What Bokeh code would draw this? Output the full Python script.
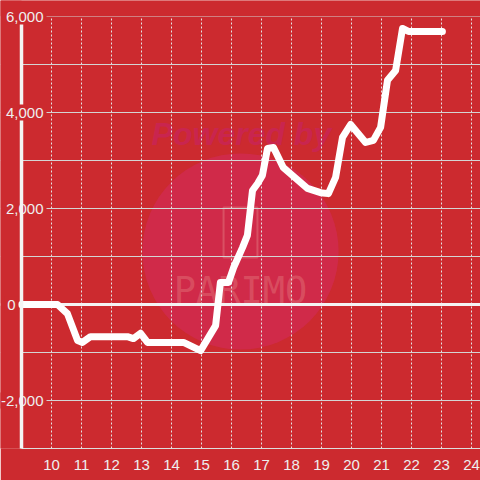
from bokeh.plotting import figure
from bokeh.models import Span, Label, FixedTicker, Range1d, BoxAnnotation
from bokeh.core.properties import value
from bokeh.embed import file_html
from bokeh.resources import INLINE

# data
hours = [9, 10.2, 10.53, 10.87, 11.03, 11.3, 12.53, 12.73, 12.97, 13.2, 14.4, 14.97,
         15.47, 15.63, 15.9, 16.07, 16.37, 16.53, 16.7, 16.87, 17.03, 17.2, 17.4, 17.73,
         18.53, 18.97, 19.23, 19.47, 19.7, 19.97, 20.47, 20.73, 20.97, 21.2, 21.47, 21.7,
         21.9, 23.03]
balance = [0, 0, -190, -750, -790, -670, -670, -710, -600, -790, -790, -960,
           -440, 460, 460, 770, 1190, 1440, 2375, 2520, 2690, 3250, 3270, 2850,
           2420, 2330, 2310, 2650, 3480, 3750, 3375, 3420, 3690, 4670, 4875, 5750,
           5690, 5690]
x_ticks = list(range(10, 25))
y_grid = list(range(-3000, 7000, 1000))
y_ticks = [-2000, 0, 2000, 4000, 6000]
y_tick_labels = ["-2,000", "0", "2,000", "4,000", "6,000"]

BG = "#cc2a2f"
FONT = "Liberation Sans"
AX_X = 9              # where the y axis sits
Y_MIN, Y_MAX = -3000, 6000
PX_PER_X = 30.0
PX_PER_Y = 0.048
LEFT_PAD, TOP_PAD = 21, 16
x_start = AX_X - LEFT_PAD / PX_PER_X
x_end = x_start + 480 / PX_PER_X
y_end = Y_MAX + TOP_PAD / PX_PER_Y

p = figure(width=480, height=480, output_backend="svg", toolbar_location=None,
           x_range=Range1d(x_start, x_end), y_range=Range1d(Y_MIN, y_end),
           y_axis_location=None, min_border_left=0, min_border_right=0,
           min_border_top=0, min_border_bottom=32,
           background_fill_color=BG, border_fill_color=BG, outline_line_color=None)

# watermark
wm = p.circle(x=[16.3], y=[1104], radius=3.27, radius_dimension="x",
              fill_color="#d02a4e", fill_alpha=0.85, line_color=None)
wm.level = "image"
t1 = p.text(x=[16.33], y=[3562], text=["Powered by"], text_align="center",
            text_baseline="middle", text_font=value(FONT), text_font_style="bold italic",
            text_font_size="32px", text_color="#c8245a", text_alpha=0.75)
t1.level = "image"
r1 = p.rect(x=[16.3], y=[1500], width=1.13, height=1040, fill_color=None,
            line_color="#e06a74", line_alpha=0.6, line_width=2)
r1.level = "image"
t2 = p.text(x=[16.3], y=[292], text=["PARIMO"], text_align="center",
            text_baseline="middle", text_font=value("DejaVu Sans Mono"),
            text_font_size="37px", text_color="#e06a74", text_alpha=0.55)
t2.level = "image"

# grids
p.xgrid.ticker = FixedTicker(ticks=x_ticks)
p.xgrid.grid_line_color = "#e4e4e4"
p.xgrid.grid_line_dash = "2 2"
p.xgrid.grid_line_width = 1
p.ygrid.ticker = FixedTicker(ticks=y_grid)
p.ygrid.grid_line_color = "#d4d4d4"
p.ygrid.grid_line_width = 1

# x axis
p.xaxis.ticker = FixedTicker(ticks=x_ticks)
p.xaxis.bounds = (AX_X, x_end)
p.xaxis.axis_line_color = "#dddddd"
p.xaxis.axis_line_width = 1
p.xaxis.major_tick_line_color = None
p.xaxis.minor_tick_line_color = None
p.xaxis.major_label_text_color = "#eeeeee"
p.xaxis.major_label_text_font = FONT
p.xaxis.major_label_text_font_size = "15px"
p.xaxis.major_label_standoff = 5

# zero line (under the masks)
p.add_layout(Span(location=0, dimension="width", line_color="#f4f4f4",
                  line_width=3, level="underlay"))

# masks hiding grid outside the plotting area
p.add_layout(BoxAnnotation(right=AX_X, fill_color=BG, fill_alpha=1, line_color=None,
                           level="underlay"))
p.add_layout(BoxAnnotation(bottom=Y_MAX, fill_color=BG, fill_alpha=1, line_color=None,
                           level="underlay"))

# data line
p.line(hours, balance, line_color="white", line_width=7,
       line_cap="round", line_join="round")

# y axis line
ax = p.segment(x0=[AX_X], y0=[Y_MIN], x1=[AX_X], y1=[Y_MAX],
               line_color="#f4f4f4", line_width=3.5)
ax.level = "overlay"

# y labels: lower ones under the axis line, upper ones over it
for v, t in zip(y_ticks, y_tick_labels):
    shift = -3 if v == 0 else 25
    lab = Label(x=AX_X + shift / PX_PER_X, y=v, text=t,
                text_align="right", text_baseline="middle",
                text_font=FONT, text_font_size="15px", text_color="#eeeeee",
                background_fill_color=BG, padding=3)
    if v >= 4000:
        lab.level = "overlay"
    p.add_layout(lab)

open("out.html", "w").write(file_html(p, INLINE))
